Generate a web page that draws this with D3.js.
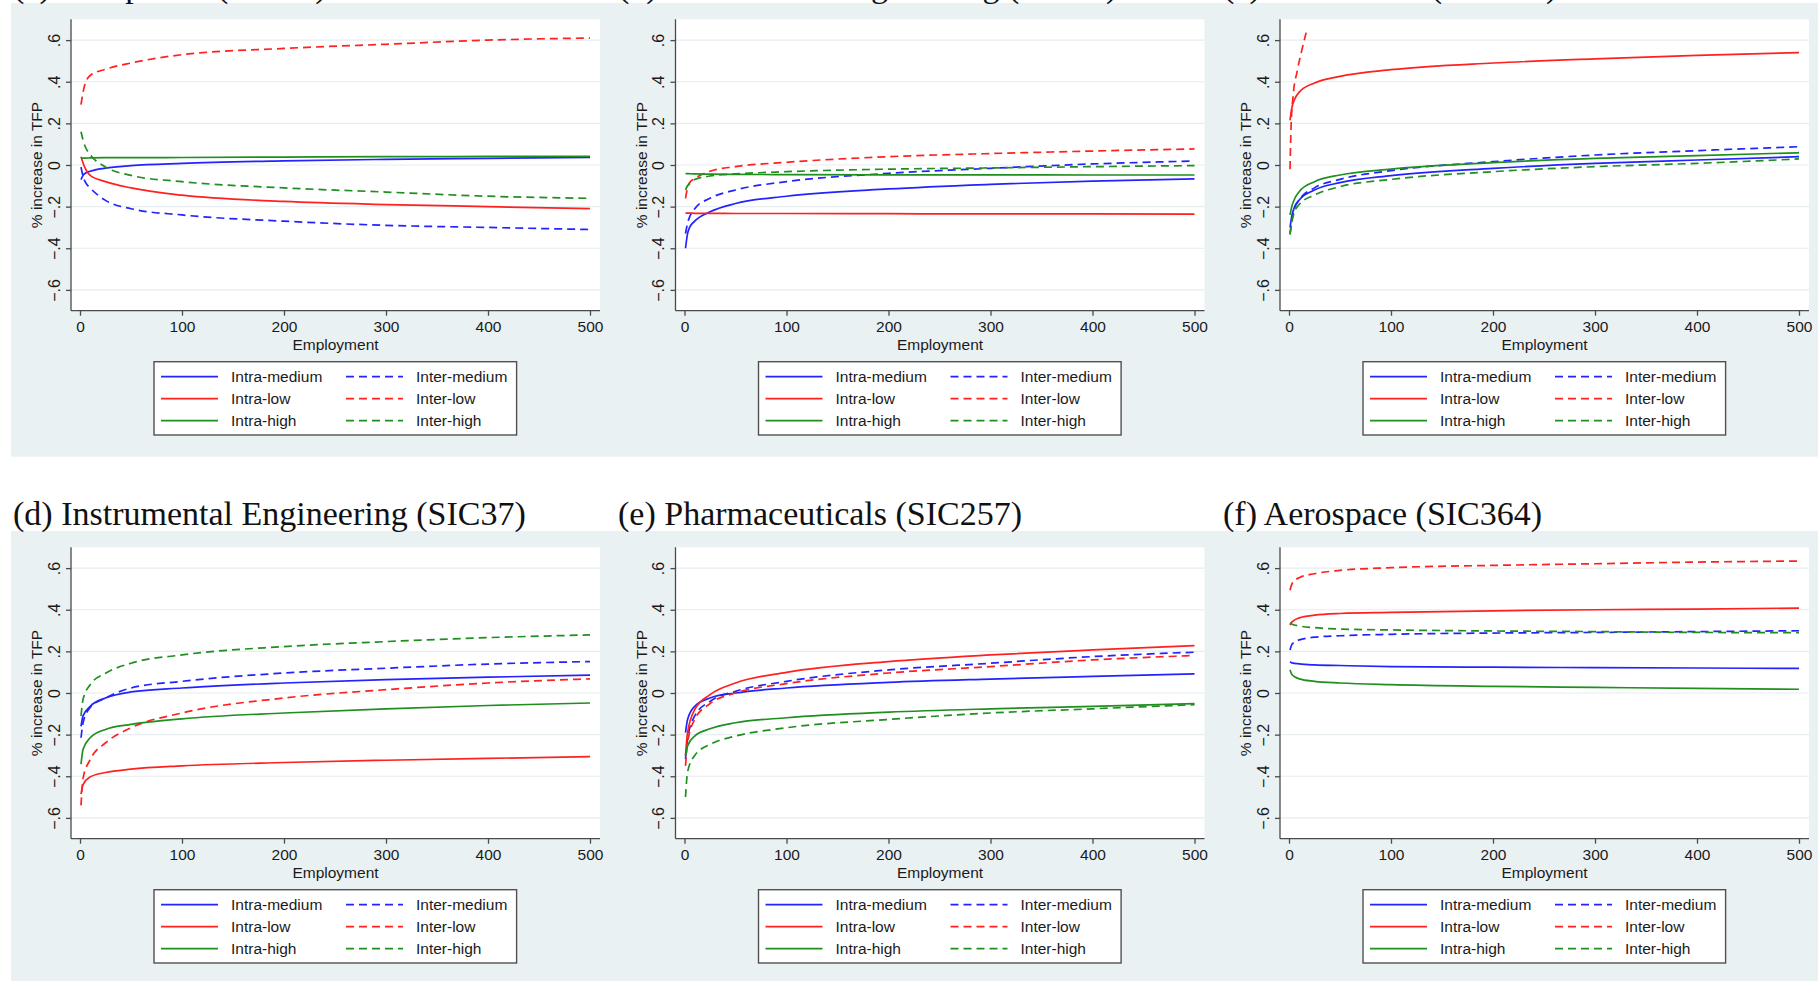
<!DOCTYPE html>
<html>
<head>
<meta charset="utf-8">
<script src="https://cdn.jsdelivr.net/npm/d3@7"></script>
<style>
  body { margin: 0; background: #fff; }
  svg { display: block; }
  text { font-family: "Liberation Sans", Arial, sans-serif; fill: #1a1a1a; }
  .title { font-family: "Liberation Serif", "DejaVu Serif", serif; font-size: 34px; fill: #111; }
</style>
</head>
<body>
<div class="chart"></div>
<script>
// titles (top row is cut off at the top edge of the picture)
const titles = [
  "(a) Computers (SIC33)",
  "(b) Mechanical Engineering (SIC32)",
  "(c) Electronics (SIC344)",
  "(d) Instrumental Engineering (SIC37)",
  "(e) Pharmaceuticals (SIC257)",
  "(f) Aerospace (SIC364)"
];

// series, in legend order
const seriesNames = ["Intra-medium", "Inter-medium", "Intra-low", "Inter-low", "Intra-high", "Inter-high"];
const seriesColors = ["#2323ff", "#2323ff", "#ff2020", "#ff2020", "#1f8f1f", "#1f8f1f"];
const seriesDashed = [false, true, false, true, false, true];

const xTicks = [0, 100, 200, 300, 400, 500];
const yTicks = [-0.6, -0.4, -0.2, 0, 0.2, 0.4, 0.6];

// employment points the curves were read at
const empTop = [1, 3, 5, 10, 25, 50, 100, 200, 300, 400, 500];
const empBottom = [1, 3, 10, 25, 50, 100, 200, 300, 400, 500];
const empShortC = [1, 2, 4, 8, 12, 17]; // inter-low in (c) stops early

// values, one array per series in seriesNames order
const panelA = [
  [-0.07, -0.05, -0.04, -0.03, -0.015, -0.003, 0.008, 0.02, 0.027, 0.032, 0.037],
  [-0.01, -0.055, -0.08, -0.11, -0.17, -0.21, -0.24, -0.27, -0.29, -0.30, -0.31],
  [0.04, 0.01, -0.015, -0.05, -0.08, -0.11, -0.145, -0.175, -0.19, -0.20, -0.21],
  [0.29, 0.35, 0.39, 0.43, 0.46, 0.49, 0.53, 0.56, 0.58, 0.60, 0.61],
  [0.032, 0.033, 0.033, 0.034, 0.035, 0.035, 0.036, 0.038, 0.040, 0.041, 0.042],
  [0.16, 0.12, 0.09, 0.05, -0.01, -0.05, -0.08, -0.11, -0.13, -0.15, -0.16]
];
const panelB = [
  [-0.40, -0.33, -0.30, -0.27, -0.225, -0.185, -0.15, -0.115, -0.093, -0.077, -0.067],
  [-0.33, -0.28, -0.25, -0.21, -0.16, -0.12, -0.08, -0.04, -0.016, 0.005, 0.019],
  [-0.231, -0.231, -0.231, -0.232, -0.232, -0.233, -0.233, -0.234, -0.235, -0.235, -0.236],
  [-0.16, -0.11, -0.085, -0.065, -0.03, -0.008, 0.013, 0.04, 0.055, 0.067, 0.077],
  [-0.041, -0.041, -0.042, -0.043, -0.044, -0.045, -0.046, -0.047, -0.047, -0.048, -0.048],
  [-0.12, -0.10, -0.09, -0.07, -0.053, -0.043, -0.032, -0.02, -0.014, -0.008, -0.003]
];
const panelC = [
  [-0.30, -0.24, -0.207, -0.168, -0.12, -0.085, -0.051, -0.016, 0.008, 0.024, 0.04],
  [-0.33, -0.26, -0.215, -0.168, -0.11, -0.069, -0.027, 0.016, 0.048, 0.069, 0.088],
  [0.215, 0.28, 0.31, 0.35, 0.394, 0.426, 0.458, 0.49, 0.51, 0.527, 0.54],
  [-0.02, 0.18, 0.33, 0.45, 0.54, 0.64],
  [-0.24, -0.195, -0.168, -0.128, -0.08, -0.048, -0.02, 0.011, 0.032, 0.045, 0.059],
  [-0.335, -0.27, -0.23, -0.19, -0.144, -0.104, -0.069, -0.032, -0.008, 0.008, 0.029]
];
const panelD = [
  [-0.16, -0.11, -0.064, -0.024, 0.005, 0.024, 0.048, 0.064, 0.076, 0.086],
  [-0.215, -0.143, -0.07, -0.024, 0.024, 0.056, 0.096, 0.119, 0.139, 0.151],
  [-0.486, -0.44, -0.403, -0.382, -0.366, -0.35, -0.334, -0.323, -0.314, -0.306],
  [-0.54, -0.41, -0.32, -0.24, -0.167, -0.096, -0.024, 0.016, 0.048, 0.068],
  [-0.342, -0.27, -0.215, -0.175, -0.151, -0.124, -0.096, -0.076, -0.06, -0.048],
  [-0.11, -0.03, 0.04, 0.095, 0.143, 0.183, 0.223, 0.247, 0.266, 0.279]
];
const panelE = [
  [-0.19, -0.127, -0.064, -0.024, 0.0, 0.024, 0.051, 0.067, 0.08, 0.092],
  [-0.318, -0.22, -0.11, -0.04, 0.008, 0.056, 0.111, 0.143, 0.175, 0.196],
  [-0.30, -0.19, -0.08, -0.008, 0.048, 0.099, 0.151, 0.183, 0.207, 0.228],
  [-0.35, -0.24, -0.127, -0.051, 0.0, 0.045, 0.096, 0.127, 0.159, 0.18],
  [-0.30, -0.255, -0.207, -0.172, -0.143, -0.119, -0.092, -0.076, -0.064, -0.051],
  [-0.50, -0.38, -0.30, -0.247, -0.207, -0.167, -0.127, -0.096, -0.076, -0.056]
];
const panelF = [
  [0.151, 0.145, 0.14, 0.135, 0.132, 0.127, 0.124, 0.122, 0.12, 0.118],
  [0.207, 0.234, 0.255, 0.268, 0.275, 0.282, 0.288, 0.291, 0.295, 0.299],
  [0.326, 0.342, 0.361, 0.374, 0.382, 0.387, 0.395, 0.40, 0.403, 0.408],
  [0.494, 0.525, 0.554, 0.573, 0.589, 0.602, 0.613, 0.621, 0.629, 0.634],
  [0.111, 0.088, 0.068, 0.056, 0.048, 0.04, 0.032, 0.027, 0.022, 0.018],
  [0.338, 0.33, 0.322, 0.314, 0.307, 0.303, 0.298, 0.295, 0.291, 0.29]
];

const panels = [panelA, panelB, panelC, panelD, panelE, panelF];

const W = 1818, H = 981;
const plotW = 529, plotH = 291.4;
const colStep = 604.5, rowStep = 528;

const svg = d3.select(".chart").append("svg")
  .attr("width", W).attr("height", H);

// grey graph regions, one band per row
[0, 1].forEach(r => {
  svg.append("rect")
    .attr("x", 11).attr("y", 3 + r * rowStep)
    .attr("width", W - 11).attr("height", r ? H - (3 + rowStep) : 453.7)
    .attr("fill", "#eaf1f3");
});

const line = d3.line().curve(d3.curveMonotoneX);

panels.forEach((vals, p) => {
  const col = p % 3, row = Math.floor(p / 3);
  const ox = 71 + col * colStep, oy = 19.3 + row * rowStep;

  svg.append("text").attr("class", "title")
    .attr("x", 13 + col * 605).attr("y", -3 + row * rowStep)
    .text(titles[p]);

  const g = svg.append("g").attr("transform", `translate(${ox},${oy})`);

  const x = d3.scaleLinear().domain([0, 500]).range([9, 519]);
  const y = d3.scaleLinear().domain([-0.7, 0.7]).range([plotH, 0]);

  g.append("rect").attr("width", plotW).attr("height", plotH).attr("fill", "#fff");

  g.selectAll(".grid").data(yTicks).enter().append("line")
    .attr("x1", 0).attr("x2", plotW)
    .attr("y1", d => y(d)).attr("y2", d => y(d))
    .attr("stroke", "#e6eef0").attr("stroke-width", 1.2);

  const clipId = "clip" + p;
  g.append("clipPath").attr("id", clipId)
    .append("rect").attr("width", plotW).attr("height", plotH);

  vals.forEach((s, i) => {
    const xs = (p === 2 && i === 3) ? empShortC : (row === 0 ? empTop : empBottom);
    g.append("path")
      .attr("clip-path", `url(#${clipId})`)
      .attr("d", line(s.map((v, k) => [x(xs[k]), y(v)])))
      .attr("fill", "none")
      .attr("stroke", seriesColors[i])
      .attr("stroke-width", 1.7)
      .attr("stroke-dasharray", seriesDashed[i] ? "8,5" : null);
  });

  // axes
  const yAxis = d3.axisLeft(y).tickValues(yTicks).tickSize(5).tickPadding(4)
    .tickFormat(d => d === 0 ? "0" : d3.format(".1f")(d).replace("0.", "."));
  const ya = g.append("g").call(yAxis);
  ya.select(".domain").attr("d", `M0,0V${plotH}`);
  ya.selectAll("text")
    .attr("transform", "translate(-17,0) rotate(-90)")
    .attr("x", 0).attr("y", 0).attr("dy", "0.35em")
    .attr("text-anchor", "middle")
    .style("font-size", "16px");

  const xAxis = d3.axisBottom(x).tickValues(xTicks).tickSize(5).tickPadding(5);
  const xa = g.append("g").attr("transform", `translate(0,${plotH})`).call(xAxis);
  xa.select(".domain").attr("d", `M0,0H${plotW}`);
  xa.selectAll("text").style("font-size", "15.5px");
  [ya, xa].forEach(a => {
    a.selectAll(".domain, .tick line").attr("stroke", "#4a4a4a").attr("stroke-width", 1.3);
    a.selectAll("text").attr("fill", "#1a1a1a").style("font-family", "'Liberation Sans', Arial, sans-serif");
  });

  g.append("text")
    .attr("x", plotW / 2).attr("y", plotH + 34).attr("dy", "0.35em")
    .attr("text-anchor", "middle").style("font-size", "15.5px")
    .text("Employment");

  g.append("text")
    .attr("transform", `translate(-34,${plotH / 2}) rotate(-90)`)
    .attr("dy", "0.35em")
    .attr("text-anchor", "middle").style("font-size", "15.5px")
    .text("% increase in TFP");

  // legend
  const lg = g.append("g").attr("transform", `translate(83,342.4)`);
  lg.append("rect").attr("width", 362.6).attr("height", 73.3)
    .attr("fill", "#fff").attr("stroke", "#505050").attr("stroke-width", 1.4);
  seriesNames.forEach((name, i) => {
    const c = i % 2, r = Math.floor(i / 2);
    const ly = 15 + r * 22;
    const lx = 7 + c * 185;
    lg.append("line")
      .attr("x1", lx).attr("x2", lx + 57).attr("y1", ly).attr("y2", ly)
      .attr("stroke", seriesColors[i]).attr("stroke-width", 1.7)
      .attr("stroke-dasharray", seriesDashed[i] ? "8,5" : null);
    lg.append("text")
      .attr("x", lx + 70).attr("y", ly).attr("dy", "0.35em")
      .style("font-size", "15.5px")
      .text(name);
  });
});
</script>
</body>
</html>
